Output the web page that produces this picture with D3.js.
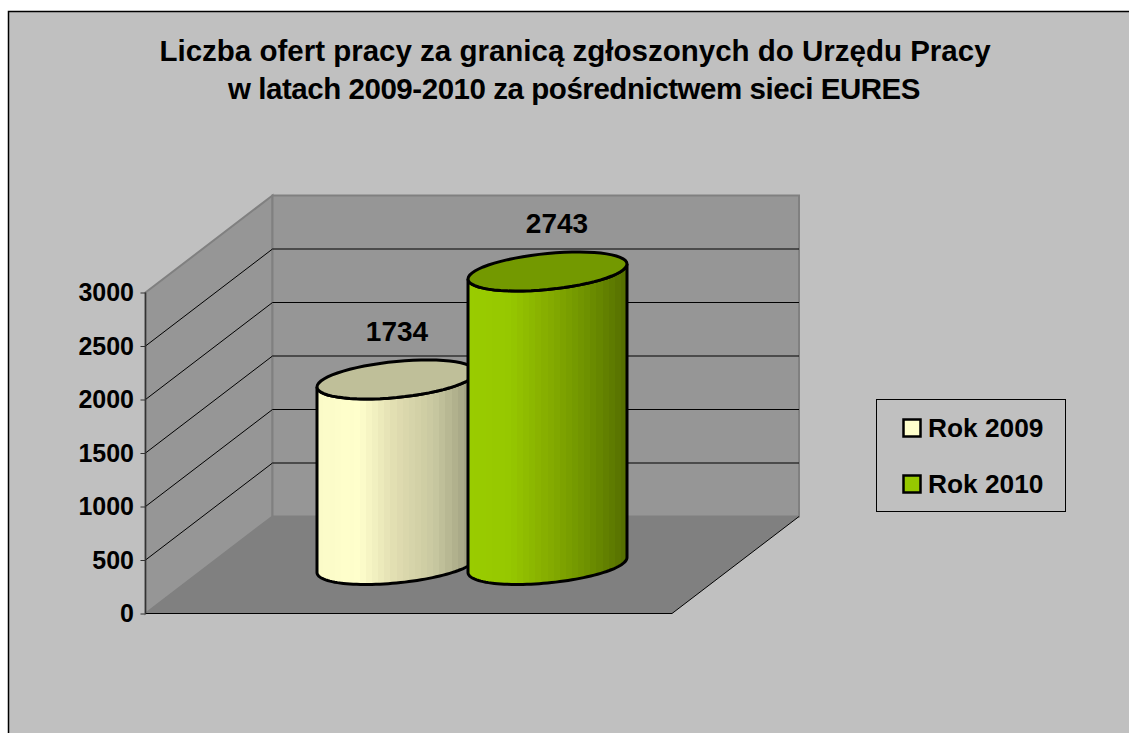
<!DOCTYPE html>
<html>
<head>
<meta charset="utf-8">
<script src="https://cdn.jsdelivr.net/npm/d3@7"></script>
<style>
  html, body { margin: 0; padding: 0; background: #fff; }
  text { font-family: "Liberation Sans", Arial, sans-serif; font-weight: bold; fill: #000; }
</style>
</head>
<body>
<div id="app"></div>
<script>
// DATA
const titleLines = [
  'Liczba ofert pracy za granicą zgłoszonych do Urzędu Pracy',
  'w latach 2009-2010 za pośrednictwem sieci EURES'
];
const categories = ['Rok 2009', 'Rok 2010'];
const values = [1734, 2743];
const yTicks = [0, 500, 1000, 1500, 2000, 2500, 3000];
const bodyColours = [
  ['#fbfbc8', '#ffffcc', '#e0dcb0', '#c8c8a0', '#9c9c7c'],
  ['#99cc00', '#96c800', '#86ad00', '#6f9200', '#567000']
];
const topColours = ['#bfbf99', '#739900'];
const labelShift = [0.5, 9.5];

// LAYOUT
const WIDTH = 1129;
const HEIGHT = 733;
const DEPTH_X = 127;
const DEPTH_Y = -97;
const BANDS = 26;

const y = d3.scaleLinear().domain([0, 3000]).range([613.5, 292.5]);
const x = d3.scaleBand().domain(categories).range([317, 619]);

const $svg = d3.select('#app')
  .append('svg')
  .attr('width', WIDTH)
  .attr('height', HEIGHT)
  .style('display', 'block');

// chart area, open at the bottom and the right of the window
$svg.append('rect')
  .attr('x', 8.5).attr('y', 11.5)
  .attr('width', 1200).attr('height', 800)
  .attr('fill', '#c0c0c0')
  .attr('stroke', '#000')
  .attr('stroke-width', 1.5);

$svg.append('g')
  .selectAll('text')
  .data(titleLines)
  .enter()
    .append('text')
    .attr('x', (d, i) => i ? 574 : 575)
    .attr('y', (d, i) => 61 + i * 38)
    .attr('text-anchor', 'middle')
    .style('font-size', '29.5px')
    .style('letter-spacing', (d, i) => i ? '-0.45px' : null)
    .text(d => d);

// walls and floor
const frontX = 145.5;
const rightX = 672;
const y0 = y(0);
const yMax = y(3000);

const poly = pts => 'M' + pts.map(p => p.join(',')).join('L') + 'Z';

$svg.append('path')
  .attr('d', poly([[frontX, y0], [frontX + DEPTH_X, y0 + DEPTH_Y], [frontX + DEPTH_X, yMax + DEPTH_Y], [frontX, yMax]]))
  .attr('fill', '#969696').attr('stroke', '#808080').attr('stroke-width', 2);
$svg.append('path')
  .attr('d', poly([[frontX + DEPTH_X, y0 + DEPTH_Y], [rightX + DEPTH_X, y0 + DEPTH_Y], [rightX + DEPTH_X, yMax + DEPTH_Y], [frontX + DEPTH_X, yMax + DEPTH_Y]]))
  .attr('fill', '#969696').attr('stroke', '#808080').attr('stroke-width', 2);
$svg.append('path')
  .attr('d', poly([[frontX, y0], [frontX + DEPTH_X, y0 + DEPTH_Y], [rightX + DEPTH_X, y0 + DEPTH_Y], [rightX, y0]]))
  .attr('fill', '#808080');

// gridlines
const $grid = $svg.append('g').attr('stroke', '#000').attr('fill', 'none');
yTicks.filter(d => d > 0 && d < 3000).forEach(d => {
  $grid.append('path')
    .attr('d', `M${frontX},${y(d)}L${frontX + DEPTH_X},${y(d) + DEPTH_Y}L${rightX + DEPTH_X},${y(d) + DEPTH_Y}`);
});
$grid.append('path')
  .attr('d', `M${frontX},${y0}L${rightX},${y0}L${rightX + DEPTH_X},${y0 + DEPTH_Y}`);

// axis
const $axis = $svg.append('g')
  .attr('transform', `translate(${frontX},0)`)
  .call(d3.axisLeft(y).tickValues(yTicks).tickFormat(d3.format('d')).tickSize(5).tickPadding(6.5));
$axis.select('.domain').attr('stroke', '#333').attr('stroke-width', 1.5).attr('d', `M0,${y0}V${yMax}`);
$axis.selectAll('.tick line').attr('stroke', '#333');
$axis.selectAll('text')
  .style('font-family', '"Liberation Sans", Arial, sans-serif')
  .style('font-size', '25px')
  .style('font-weight', 'bold');

// cylinders
const RX = 79.5;
const RY = 18;
const TILT = -7.5;
const FLOOR_Y = 565;

const defs = $svg.append('defs');
categories.forEach((c, i) => {
  const grad = defs.append('linearGradient').attr('id', 'body' + i);
  const colour = d3.piecewise(d3.interpolateRgb, bodyColours[i]);
  // hard-edged stops, the shading in the picture is made of narrow bands
  d3.range(BANDS).forEach(b => {
    const col = colour(b / (BANDS - 1));
    grad.append('stop').attr('offset', b / BANDS).attr('stop-color', col);
    grad.append('stop').attr('offset', (b + 1) / BANDS).attr('stop-color', col);
  });
});

function ellipsePoint(cx, cy, t) {
  return [cx + RX * Math.cos(t), cy + RY * Math.sin(t) + TILT * Math.cos(t)];
}

function ellipseArc(cx, cy, from, to) {
  return d3.range(0, 61).map(k => ellipsePoint(cx, cy, from + (to - from) * k / 60));
}

const line = d3.line();

categories.forEach((c, i) => {
  const cx = x(c) + RX;
  const height = y(0) - y(values[i]);
  const topY = FLOOR_Y - height;

  // body: down the left side, round the front of the base, up the right side
  const bottomFront = ellipseArc(cx, FLOOR_Y, Math.PI, 0);
  const topFront = ellipseArc(cx, topY, 0, Math.PI);
  $svg.append('path')
    .attr('d', line(bottomFront.concat(topFront)) + 'Z')
    .attr('fill', `url(#body${i})`)
    .attr('stroke', '#000')
    .attr('stroke-width', 3);

  $svg.append('path')
    .attr('d', line(ellipseArc(cx, topY, 0, Math.PI * 2)) + 'Z')
    .attr('fill', topColours[i])
    .attr('stroke', '#000')
    .attr('stroke-width', 3);

  $svg.append('text')
    .attr('x', cx + labelShift[i])
    .attr('y', topY - 38)
    .attr('text-anchor', 'middle')
    .style('font-size', '28px')
    .text(values[i]);
});

// legend
$svg.append('rect')
  .attr('x', 876.5).attr('y', 399.5)
  .attr('width', 189).attr('height', 112)
  .attr('fill', '#c0c0c0')
  .attr('stroke', '#000');

const legendY = d3.scalePoint().domain(categories).range([428, 484]);
categories.forEach((c, i) => {
  $svg.append('rect')
    .attr('x', 903.5).attr('y', legendY(c) - 8.5)
    .attr('width', 17).attr('height', 17)
    .attr('fill', bodyColours[i][1])
    .attr('stroke', '#000')
    .attr('stroke-width', 2.5);
  $svg.append('text')
    .attr('x', 928)
    .attr('y', legendY(c) + 8.5)
    .style('font-size', '26.3px')
    .text(c);
});
</script>
</body>
</html>
